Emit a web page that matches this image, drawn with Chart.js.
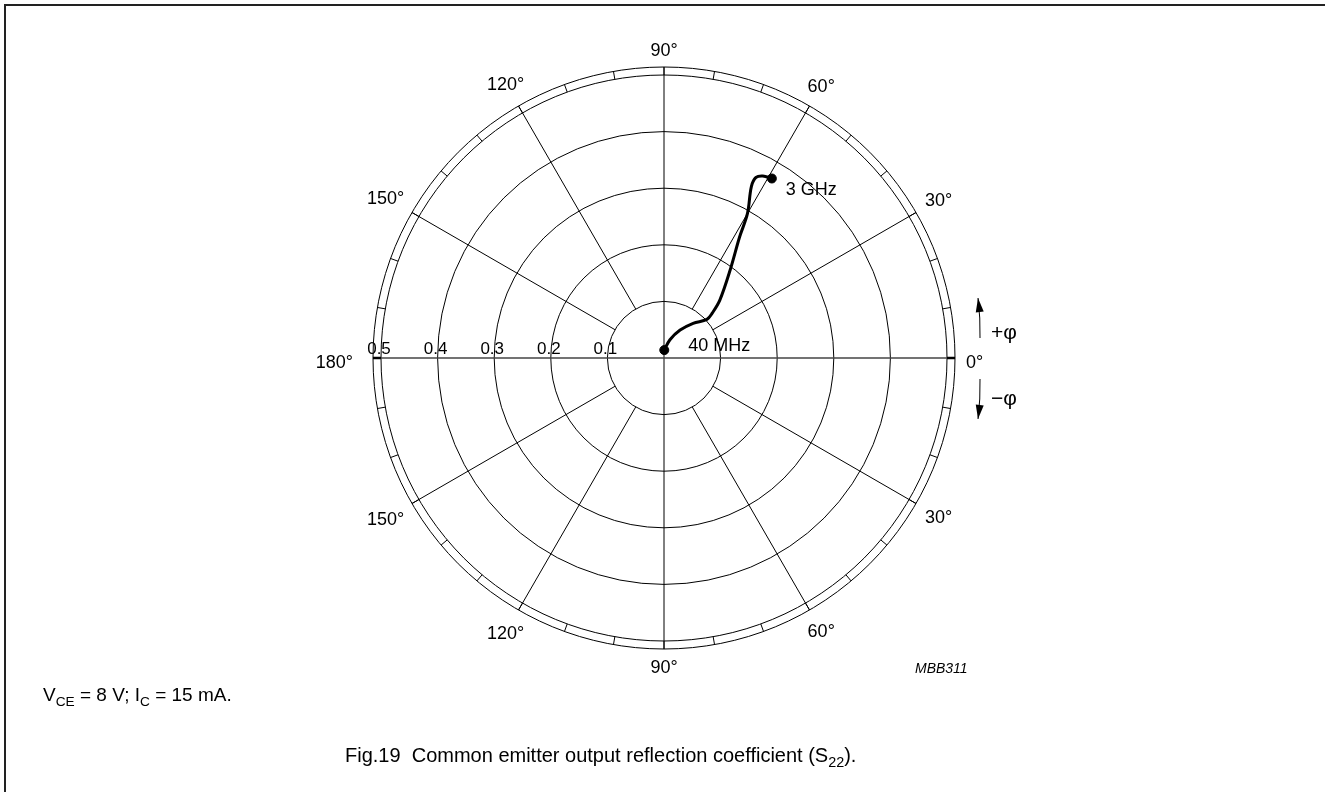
<!DOCTYPE html>
<html>
<head>
<meta charset="utf-8">
<script src="https://cdn.jsdelivr.net/npm/chart.js@4.4.1/dist/chart.umd.min.js"></script>
<style>
  body { margin: 0; background: #fff; font-family: "Liberation Sans", Arial, sans-serif; color: #000; }
  #wrap { position: relative; width: 1325px; height: 792px; overflow: hidden; }
  #frame { position: absolute; left: 4px; top: 4px; width: 1400px; height: 900px;
           border-left: 2px solid #222; border-top: 2px solid #222; }
  canvas { position: absolute; left: 0; top: 0; }
  .txt { position: absolute; white-space: nowrap; line-height: 0; }
  .txt sub { font-size: 72%; vertical-align: -5px; line-height: 0; }
  #note { left: 43px; top: 695px; font-size: 19px; }
  #code { left: 915px; top: 668px; font-size: 14px; font-style: italic; }
  #caption { left: 345px; top: 755px; font-size: 20px; }
</style>
</head>
<body>
<div id="wrap">
  <div id="frame"></div>
  <canvas id="s22Chart" width="1325" height="792"></canvas>
  <div class="txt" id="note">V<sub>CE</sub> = 8 V; I<sub>C</sub> = 15 mA.</div>
  <div class="txt" id="code">MBB311</div>
  <div class="txt" id="caption">Fig.19&nbsp;&nbsp;Common emitter output reflection coefficient (S<sub>22</sub>).</div>
</div>
<script>
// S22 trace, 40 MHz -> 3 GHz (magnitude, phase in degrees)
var s22Mag   = [0.014, 0.034, 0.057, 0.080, 0.102, 0.117, 0.142, 0.194, 0.252, 0.295, 0.340, 0.358, 0.366, 0.370];
var s22Phase = [88, 72, 60, 50, 42, 43, 46, 53, 58, 60, 63, 63, 61.5, 59];
var startLabel = "40 MHz";
var endLabel = "3 GHz";

// grid
var magTicks = [0.1, 0.2, 0.3, 0.4, 0.5];
var magLabels = ["0.1", "0.2", "0.3", "0.4", "0.5"];
var phaseTicks = [0, 30, 60, 90, 120, 150, 180, -30, -60, -90, -120, -150];
var spokeAngles = [30, 60, 120, 150, 210, 240, 300, 330];

var FONT = '18px "Liberation Sans", Arial, sans-serif';
var SMALL = '17px "Liberation Sans", Arial, sans-serif';
var rad = function (d) { return d * Math.PI / 180; };

var curve = s22Mag.map(function (m, i) {
  return { x: m * Math.cos(rad(s22Phase[i])), y: m * Math.sin(rad(s22Phase[i])) };
});
var ends = [curve[0], curve[curve.length - 1]];

var polarGrid = {
  id: "polarGrid",
  beforeDatasetsDraw: function (chart) {
    var ctx = chart.ctx, x = chart.scales.x, y = chart.scales.y;
    var cx = x.getPixelForValue(0), cy = y.getPixelForValue(0);
    var px = function (v) { return x.getPixelForValue(v) - cx; };
    var rIn = px(0.5), rRing = rIn + 8;
    ctx.save();
    ctx.strokeStyle = "#000";
    ctx.lineWidth = 1;
    magTicks.forEach(function (v) {
      ctx.beginPath(); ctx.arc(cx, cy, px(v), 0, 2 * Math.PI); ctx.stroke();
    });
    ctx.beginPath(); ctx.arc(cx, cy, rRing, 0, 2 * Math.PI); ctx.stroke();

    spokeAngles.forEach(function (a) {
      var c = Math.cos(rad(a)), s = Math.sin(rad(a)), r0 = px(0.1);
      ctx.beginPath();
      ctx.moveTo(cx + r0 * c, cy - r0 * s);
      ctx.lineTo(cx + rRing * c, cy - rRing * s);
      ctx.stroke();
    });
    // vertical 90 line
    ctx.beginPath(); ctx.moveTo(cx, cy - rRing); ctx.lineTo(cx, cy + rRing); ctx.stroke();
    // ring ticks every 10 deg
    for (var a = 0; a < 360; a += 10) {
      var c = Math.cos(rad(a)), s = Math.sin(rad(a));
      ctx.lineWidth = (a === 0 || a === 180) ? 2.5 : 1;
      ctx.beginPath();
      ctx.moveTo(cx + rIn * c, cy - rIn * s);
      ctx.lineTo(cx + rRing * c, cy - rRing * s);
      ctx.stroke();
    }
    // real axis
    ctx.strokeStyle = "#444";
    ctx.lineWidth = 1.6;
    ctx.beginPath(); ctx.moveTo(cx - rIn, cy); ctx.lineTo(cx + rIn, cy); ctx.stroke();

    // labels
    ctx.fillStyle = "#000";
    ctx.font = SMALL;
    ctx.textAlign = "center";
    ctx.textBaseline = "alphabetic";
    magTicks.forEach(function (v, i) {
      ctx.fillText(magLabels[i], cx - px(v) - 2, cy - 4);
    });
    ctx.font = FONT;
    var capH = 13;
    phaseTicks.forEach(function (a) {
      var t = Math.abs(a) + "\u00B0";
      var w = ctx.measureText(t).width;
      var c = Math.cos(rad(a)), s = Math.sin(rad(a));
      var gap = (a === 180) ? 20 : 11;
      var r = rRing + gap + (w / 2) * Math.abs(c) + (capH / 2) * Math.abs(s);
      var dy = (a === 0 || a === 180) ? 3 : 0;
      ctx.fillText(t, cx + r * c, cy - r * s + capH / 2 + dy);
    });
    ctx.restore();
  },
  afterDatasetsDraw: function (chart) {
    var ctx = chart.ctx, x = chart.scales.x, y = chart.scales.y;
    var cx = x.getPixelForValue(0), cy = y.getPixelForValue(0);
    ctx.save();
    ctx.fillStyle = "#000";
    ctx.strokeStyle = "#000";
    ctx.font = FONT;
    ctx.textAlign = "left";
    ctx.textBaseline = "alphabetic";
    var p0 = ends[0], p1 = ends[1];
    ctx.fillText(startLabel, x.getPixelForValue(p0.x) + 24, y.getPixelForValue(p0.y) + 1);
    ctx.fillText(endLabel, x.getPixelForValue(p1.x) + 14, y.getPixelForValue(p1.y) + 17);

    // +phi / -phi arrows
    function arrow(x0, y0, x1, y1, xc, yc) {
      ctx.lineWidth = 1;
      ctx.beginPath(); ctx.moveTo(x0, y0); ctx.quadraticCurveTo(xc, yc, x1, y1); ctx.stroke();
      var ang = Math.atan2(y1 - yc, x1 - xc), L = 14, W = 4;
      ctx.beginPath();
      ctx.moveTo(x1, y1);
      ctx.lineTo(x1 - L * Math.cos(ang) + W * Math.sin(ang), y1 - L * Math.sin(ang) - W * Math.cos(ang));
      ctx.lineTo(x1 - L * Math.cos(ang) - W * Math.sin(ang), y1 - L * Math.sin(ang) + W * Math.cos(ang));
      ctx.closePath(); ctx.fill();
    }
    arrow(cx + 316, cy - 20, cx + 314, cy - 60, cx + 316.5, cy - 40);
    arrow(cx + 316, cy + 21, cx + 314, cy + 61, cx + 316.5, cy + 41);
    ctx.font = '21px "Liberation Sans", Arial, sans-serif';
    ctx.fillText("+\u03C6", cx + 327, cy - 19);
    ctx.fillText("\u2212\u03C6", cx + 327, cy + 47);
    ctx.restore();
  }
};

new Chart("s22Chart", {
  type: "scatter",
  data: {
    datasets: [
      {
        data: curve,
        showLine: true,
        tension: 0.35,
        borderColor: "#000",
        borderWidth: 3,
        pointRadius: 0,
        clip: false
      },
      {
        data: ends,
        backgroundColor: "#000",
        borderColor: "#000",
        pointRadius: 4.5,
        clip: false
      }
    ]
  },
  options: {
    responsive: false,
    animation: false,
    events: [],
    layout: { padding: { left: 381, right: 378, top: 75, bottom: 151 } },
    scales: {
      x: { type: "linear", min: -0.5, max: 0.5, display: false },
      y: { type: "linear", min: -0.5, max: 0.5, display: false }
    },
    plugins: { legend: { display: false }, tooltip: { enabled: false } }
  },
  plugins: [polarGrid]
});
</script>
</body>
</html>
